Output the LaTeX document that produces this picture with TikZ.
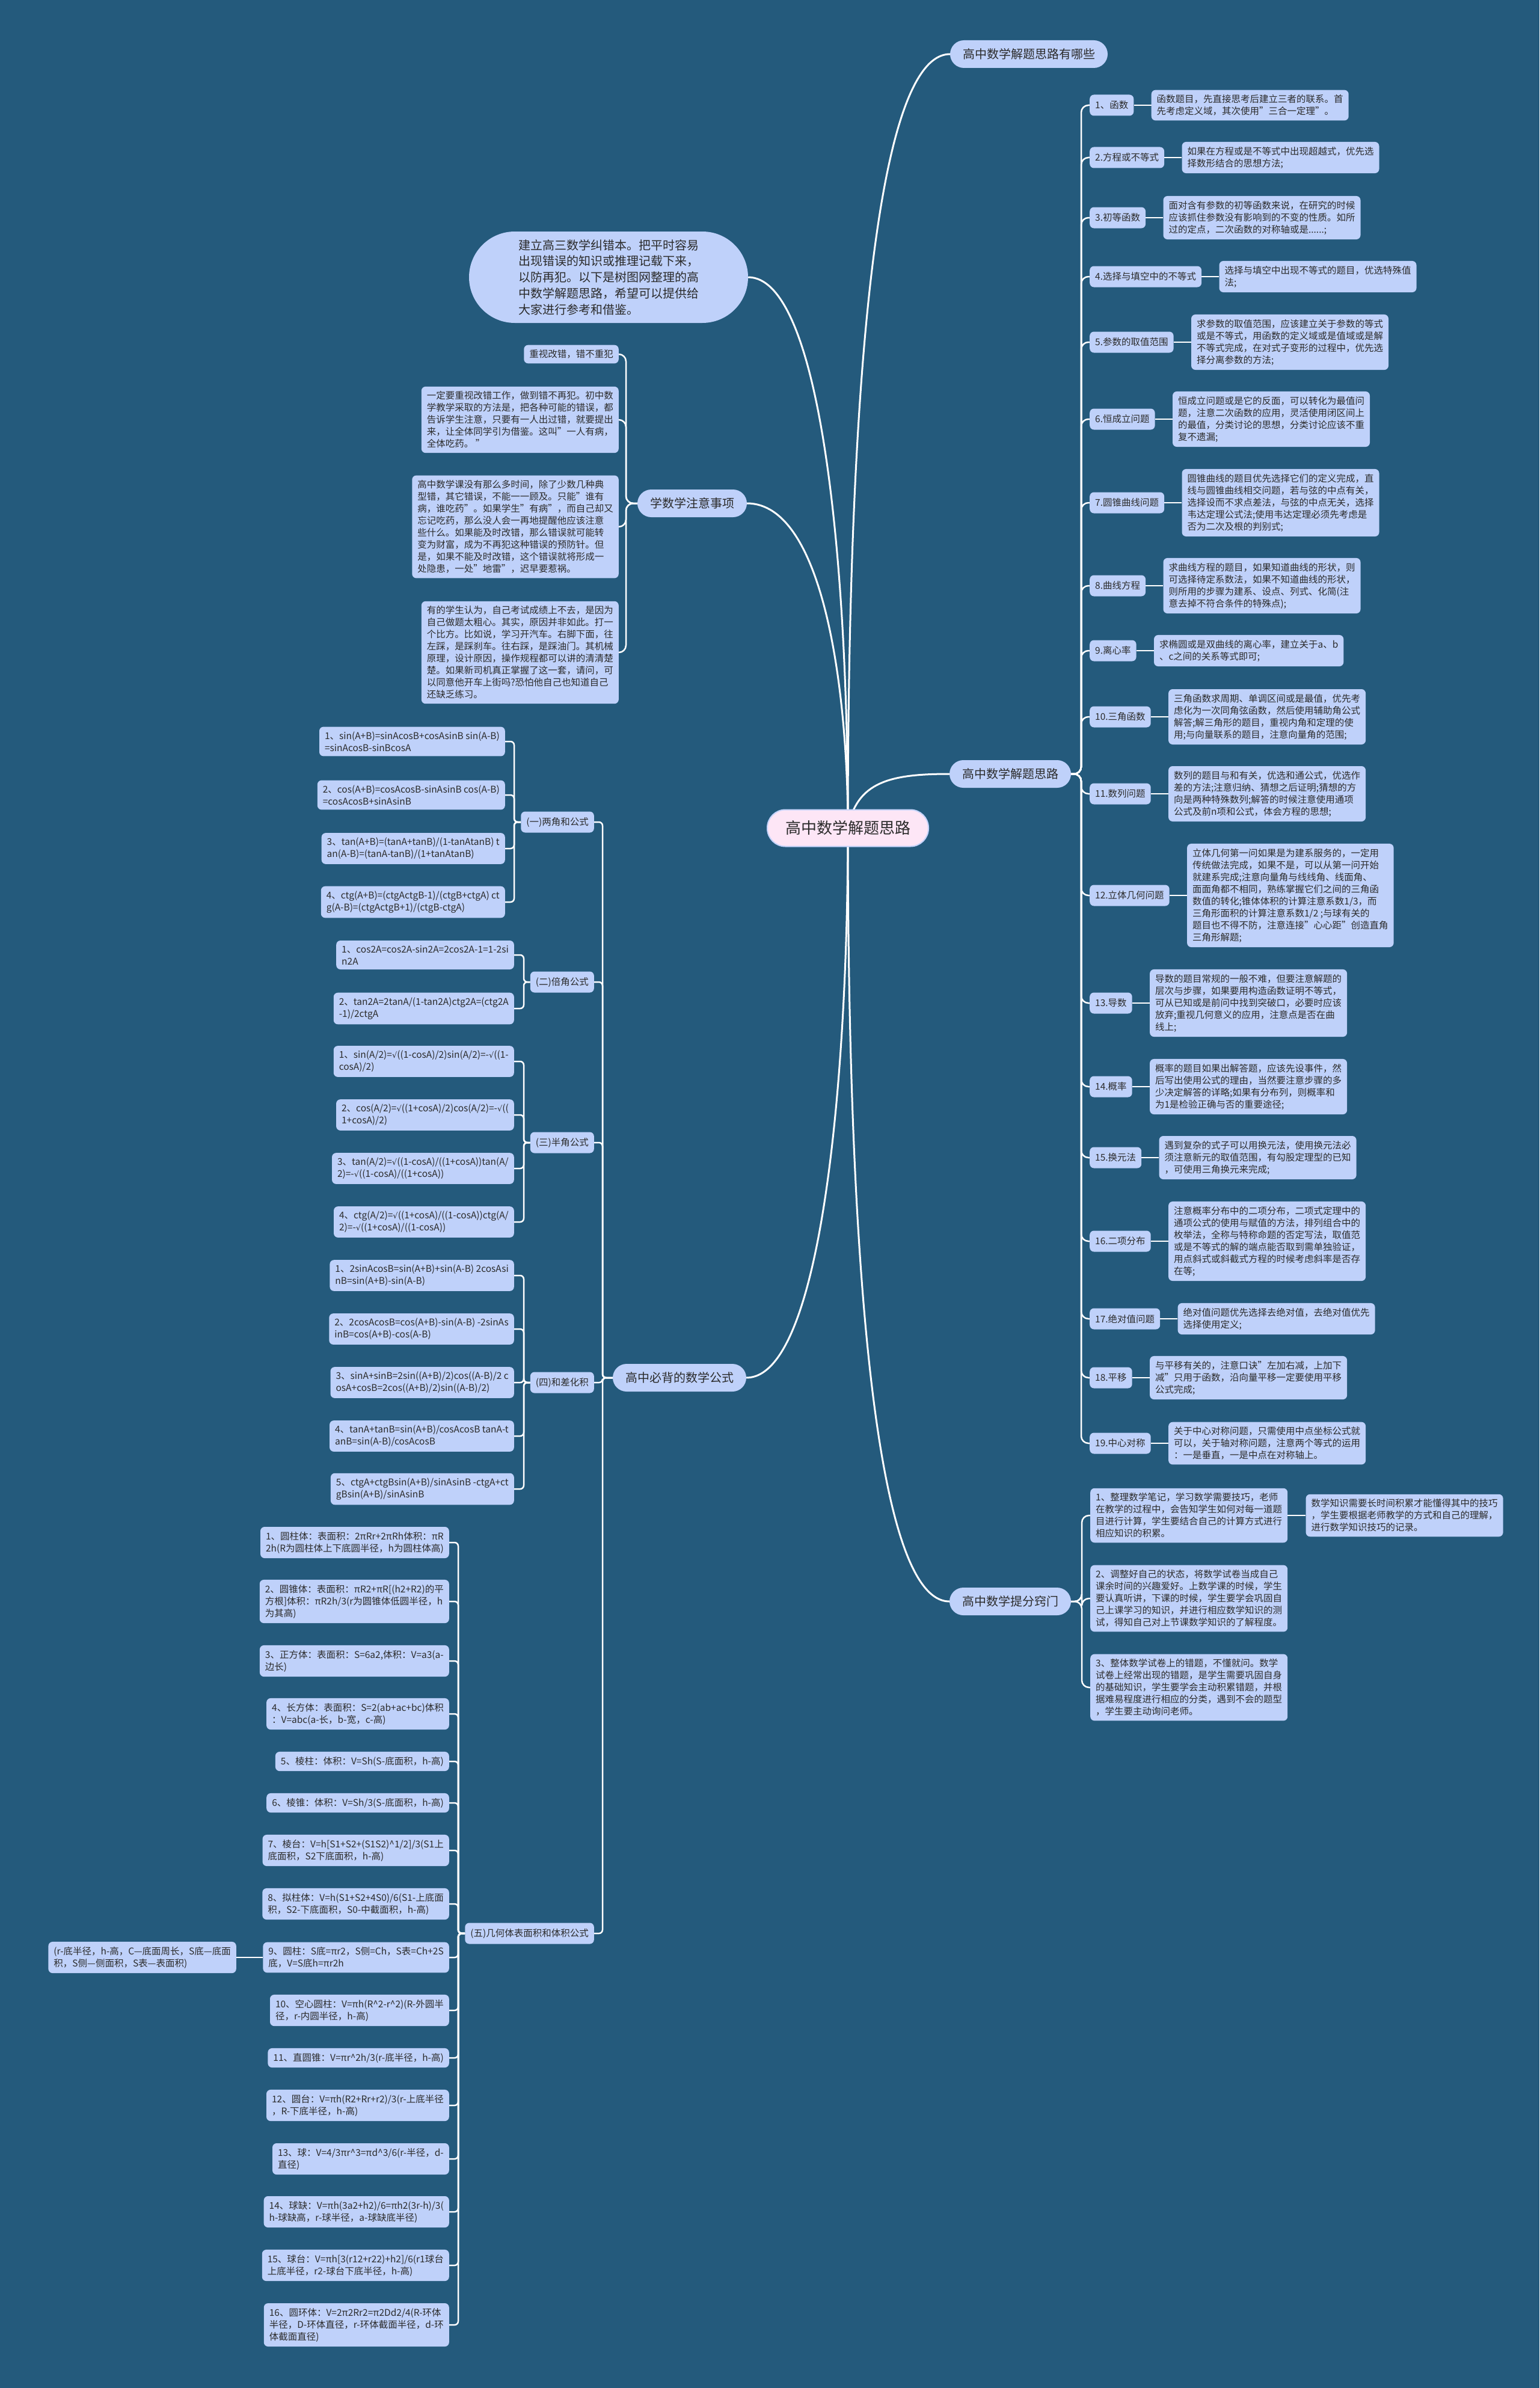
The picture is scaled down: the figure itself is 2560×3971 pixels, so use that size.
\documentclass[tikz,border=0pt]{standalone}
\usepackage{fontspec}
\setmainfont{Noto Sans CJK SC}
\newfontfamily\symfont{DejaVu Sans}
\newcommand{\sqr}{{\symfont\fontsize{13}{20}\selectfont √}}
\definecolor{bg}{HTML}{245A7C}
\definecolor{boxc}{HTML}{BFD1FA}
\definecolor{txt}{HTML}{2B2B2B}
\definecolor{pinkc}{HTML}{FDE6F6}
\definecolor{pinkb}{HTML}{C4D3FA}
\pgfdeclarelayer{backl}
\pgfdeclarelayer{linel}
\pgfsetlayers{backl,linel,main}
\begin{document}
\begin{tikzpicture}[x=1pt,y=-1pt,
  leaf/.style={rectangle, rounded corners=7pt, fill=boxc, text=txt, font=\fontsize{15.5}{20}\selectfont, align=left, inner xsep=9pt, inner ysep=8pt},
  lbl/.style={leaf, minimum height=35pt},
  br/.style={rectangle, rounded corners=23pt, fill=boxc, text=txt, font=\fontsize{20}{26}\selectfont, inner xsep=21pt, minimum height=46pt},
  ln/.style={draw=white, line width=2.5pt, rounded corners=12pt},
  lns/.style={draw=white, line width=2.5pt, rounded corners=6pt},
  mainln/.style={draw=white, line width=3pt}]
\begin{pgfonlayer}{backl}
\fill[bg] (0,0) rectangle (2560,3971);
\end{pgfonlayer}
\useasboundingbox (0,0) rectangle (2560,3971);

% ---------- central & branch nodes ----------
\node[rectangle, rounded corners=30pt, fill=pinkc, draw=pinkb, line width=2pt, text=txt, font=\fontsize{26}{32}\selectfont, inner xsep=30pt, minimum height=61pt] (C) at (1410,1377) {高中数学解题思路};
\node[br] (B1) at (1711,90) {高中数学解题思路有哪些};
\node[br] (B2) at (1680,1287) {高中数学解题思路};
\node[br] (B3) at (1680,2663) {高中数学提分窍门};
\node[rectangle, rounded corners=76pt, fill=boxc, text=txt, font=\fontsize{20}{26.7}\selectfont, align=left, inner xsep=78pt, minimum height=152pt, minimum width=464pt] (L1) at (1012,461) {建立高三数学纠错本。把平时容易\\出现错误的知识或推理记载下来，\\以防再犯。以下是树图网整理的高\\中数学解题思路，希望可以提供给\\大家进行参考和借鉴。};
\node[br] (L2) at (1151,837) {学数学注意事项};
\node[br] (L3) at (1130,2291) {高中必背的数学公式};

\begin{pgfonlayer}{linel}
\draw[mainln] (C.center) .. controls (1410,800) and (1440,90) .. (B1.west);
\draw[mainln] (C.center) .. controls (1425,1300) and (1480,1287) .. (B2.west);
\draw[mainln] (C.center) .. controls (1410,1954) and (1440,2663) .. (B3.west);
\draw[mainln] (C.center) .. controls (1410,900) and (1360,461) .. (L1.east);
\draw[mainln] (C.center) .. controls (1410,1150) and (1370,837) .. (L2.east);
\draw[mainln] (C.center) .. controls (1410,1800) and (1365,2291) .. (L3.east);
\end{pgfonlayer}

% ---------- right: 19 items ----------
\node[lbl, anchor=west] (r1) at (1812,175) {1、函数};
\node[leaf, anchor=west] (d1) at ([xshift=29pt]r1.east) {函数题目，先直接思考后建立三者的联系。首\\先考虑定义域，其次使用"三合一定理"。};
\node[lbl, anchor=west] (r2) at (1812,262) {2.方程或不等式};
\node[leaf, anchor=west] (d2) at ([xshift=29pt]r2.east) {如果在方程或是不等式中出现超越式，优先选\\择数形结合的思想方法;};
\node[lbl, anchor=west] (r3) at (1812,362) {3.初等函数};
\node[leaf, anchor=west] (d3) at ([xshift=29pt]r3.east) {面对含有参数的初等函数来说，在研究的时候\\应该抓住参数没有影响到的不变的性质。如所\\过的定点，二次函数的对称轴或是......;};
\node[lbl, anchor=west] (r4) at (1812,460) {4.选择与填空中的不等式};
\node[leaf, anchor=west] (d4) at ([xshift=29pt]r4.east) {选择与填空中出现不等式的题目，优选特殊值\\法;};
\node[lbl, anchor=west] (r5) at (1812,569) {5.参数的取值范围};
\node[leaf, anchor=west] (d5) at ([xshift=29pt]r5.east) {求参数的取值范围，应该建立关于参数的等式\\或是不等式，用函数的定义域或是值域或是解\\不等式完成，在对式子变形的过程中，优先选\\择分离参数的方法;};
\node[lbl, anchor=west] (r6) at (1812,697) {6.恒成立问题};
\node[leaf, anchor=west] (d6) at ([xshift=29pt]r6.east) {恒成立问题或是它的反面，可以转化为最值问\\题，注意二次函数的应用，灵活使用闭区间上\\的最值，分类讨论的思想，分类讨论应该不重\\复不遗漏;};
\node[lbl, anchor=west] (r7) at (1812,836) {7.圆锥曲线问题};
\node[leaf, anchor=west] (d7) at ([xshift=29pt]r7.east) {圆锥曲线的题目优先选择它们的定义完成，直\\线与圆锥曲线相交问题，若与弦的中点有关，\\选择设而不求点差法，与弦的中点无关，选择\\韦达定理公式法;使用韦达定理必须先考虑是\\否为二次及根的判别式;};
\node[lbl, anchor=west] (r8) at (1812,974) {8.曲线方程};
\node[leaf, anchor=west] (d8) at ([xshift=29pt]r8.east) {求曲线方程的题目，如果知道曲线的形状，则\\可选择待定系数法，如果不知道曲线的形状，\\则所用的步骤为建系、设点、列式、化简(注\\意去掉不符合条件的特殊点);};
\node[lbl, anchor=west] (r9) at (1812,1082) {9.离心率};
\node[leaf, anchor=west] (d9) at ([xshift=29pt]r9.east) {求椭圆或是双曲线的离心率，建立关于a、b\\、c之间的关系等式即可;};
\node[lbl, anchor=west] (r10) at (1812,1192) {10.三角函数};
\node[leaf, anchor=west] (d10) at ([xshift=29pt]r10.east) {三角函数求周期、单调区间或是最值，优先考\\虑化为一次同角弦函数，然后使用辅助角公式\\解答;解三角形的题目，重视内角和定理的使\\用;与向量联系的题目，注意向量角的范围;};
\node[lbl, anchor=west] (r11) at (1812,1320) {11.数列问题};
\node[leaf, anchor=west] (d11) at ([xshift=29pt]r11.east) {数列的题目与和有关，优选和通公式，优选作\\差的方法;注意归纳、猜想之后证明;猜想的方\\向是两种特殊数列;解答的时候注意使用通项\\公式及前n项和公式，体会方程的思想;};
\node[lbl, anchor=west] (r12) at (1812,1489) {12.立体几何问题};
\node[leaf, anchor=west] (d12) at ([xshift=29pt]r12.east) {立体几何第一问如果是为建系服务的，一定用\\传统做法完成，如果不是，可以从第一问开始\\就建系完成;注意向量角与线线角、线面角、\\面面角都不相同，熟练掌握它们之间的三角函\\数值的转化;锥体体积的计算注意系数1/3，而\\三角形面积的计算注意系数1/2 ;与球有关的\\题目也不得不防，注意连接"心心距"创造直角\\三角形解题;};
\node[lbl, anchor=west] (r13) at (1812,1668) {13.导数};
\node[leaf, anchor=west] (d13) at ([xshift=29pt]r13.east) {导数的题目常规的一般不难，但要注意解题的\\层次与步骤，如果要用构造函数证明不等式，\\可从已知或是前问中找到突破口，必要时应该\\放弃;重视几何意义的应用，注意点是否在曲\\线上;};
\node[lbl, anchor=west] (r14) at (1812,1807) {14.概率};
\node[leaf, anchor=west] (d14) at ([xshift=29pt]r14.east) {概率的题目如果出解答题，应该先设事件，然\\后写出使用公式的理由，当然要注意步骤的多\\少决定解答的详略;如果有分布列，则概率和\\为1是检验正确与否的重要途径;};
\node[lbl, anchor=west] (r15) at (1812,1925) {15.换元法};
\node[leaf, anchor=west] (d15) at ([xshift=29pt]r15.east) {遇到复杂的式子可以用换元法，使用换元法必\\须注意新元的取值范围，有勾股定理型的已知\\，可使用三角换元来完成;};
\node[lbl, anchor=west] (r16) at (1812,2064) {16.二项分布};
\node[leaf, anchor=west] (d16) at ([xshift=29pt]r16.east) {注意概率分布中的二项分布，二项式定理中的\\通项公式的使用与赋值的方法，排列组合中的\\枚举法，全称与特称命题的否定写法，取值范\\或是不等式的解的端点能否取到需单独验证，\\用点斜式或斜截式方程的时候考虑斜率是否存\\在等;};
\node[lbl, anchor=west] (r17) at (1812,2193) {17.绝对值问题};
\node[leaf, anchor=west] (d17) at ([xshift=29pt]r17.east) {绝对值问题优先选择去绝对值，去绝对值优先\\选择使用定义;};
\node[lbl, anchor=west] (r18) at (1812,2291) {18.平移};
\node[leaf, anchor=west] (d18) at ([xshift=29pt]r18.east) {与平移有关的，注意口诀"左加右减，上加下\\减"只用于函数，沿向量平移一定要使用平移\\公式完成;};
\node[lbl, anchor=west] (r19) at (1812,2400) {19.中心对称};
\node[leaf, anchor=west] (d19) at ([xshift=29pt]r19.east) {关于中心对称问题，只需使用中点坐标公式就\\可以，关于轴对称问题，注意两个等式的运用\\：一是垂直，一是中点在对称轴上。};

\begin{pgfonlayer}{linel}
\foreach \i/\y in {1/175,2/262,3/362,4/460,5/569,6/697,7/836,8/974,9/1082,10/1192,11/1320,12/1489,13/1668,14/1807,15/1925,16/2064,17/2193,18/2291,19/2400}{
  \draw[ln] (B2.east) -- (1798,1287) -- (1798,\y) -- (r\i.west);
  \draw[ln] (r\i.east) -- (d\i.west);
}
\end{pgfonlayer}

% ---------- right: 提分窍门 ----------
\node[leaf, anchor=west] (t1) at (1813,2520) {1、整理数学笔记，学习数学需要技巧，老师\\在教学的过程中，会告知学生如何对每一道题\\目进行计算，学生要结合自己的计算方式进行\\相应知识的积累。};
\node[leaf, anchor=west] (t1a) at ([xshift=30pt]t1.east) {数学知识需要长时间积累才能懂得其中的技巧\\，学生要根据老师教学的方式和自己的理解，\\进行数学知识技巧的记录。};
\node[leaf, anchor=west] (t2) at (1813,2658) {2、调整好自己的状态，将数学试卷当成自己\\课余时间的兴趣爱好。上数学课的时候，学生\\要认真听讲，下课的时候，学生要学会巩固自\\己上课学习的知识，并进行相应数学知识的测\\试，得知自己对上节课数学知识的了解程度。};
\node[leaf, anchor=west] (t3) at (1813,2806) {3、整体数学试卷上的错题，不懂就问。数学\\试卷上经常出现的错题，是学生需要巩固自身\\的基础知识，学生要学会主动积累错题，并根\\据难易程度进行相应的分类，遇到不会的题型\\，学生要主动询问老师。};
\begin{pgfonlayer}{linel}
\foreach \i/\y in {1/2520,2/2658,3/2806}{
  \draw[ln] (B3.east) -- (1799,2663) -- (1799,\y) -- (t\i.west);
}
\draw[ln] (t1.east) -- (t1a.west);
\end{pgfonlayer}

% ---------- left: 学数学注意事项 ----------
\node[leaf, anchor=east] (n1) at (1029,589) {重视改错，错不重犯};
\node[leaf, anchor=east] (n2) at (1029,698) {一定要重视改错工作，做到错不再犯。初中数\\学教学采取的方法是，把各种可能的错误，都\\告诉学生注意，只要有一人出过错，就要提出\\来，让全体同学引为借鉴。这叫"一人有病，\\全体吃药。 "};
\node[leaf, anchor=east] (n3) at (1029,876) {高中数学课没有那么多时间，除了少数几种典\\型错，其它错误，不能一一顾及。只能"谁有\\病，谁吃药"。如果学生"有病"，而自己却又\\忘记吃药，那么没人会一再地提醒他应该注意\\些什么。如果能及时改错，那么错误就可能转\\变为财富，成为不再犯这种错误的预防针。但\\是，如果不能及时改错，这个错误就将形成一\\处隐患，一处"地雷"，迟早要惹祸。};
\node[leaf, anchor=east] (n4) at (1029,1085) {有的学生认为，自己考试成绩上不去，是因为\\自己做题太粗心。其实，原因并非如此。打一\\个比方。比如说，学习开汽车。右脚下面，往\\左踩，是踩刹车。往右踩，是踩油门。其机械\\原理，设计原因，操作规程都可以讲的清清楚\\楚。如果新司机真正掌握了这一套，请问，可\\以同意他开车上街吗?恐怕他自己也知道自己\\还缺乏练习。};
\begin{pgfonlayer}{linel}
\foreach \i/\y in {1/589,2/698,3/876,4/1085}{
  \draw[ln] (L2.west) -- (1041,837) -- (1041,\y) -- (n\i.east);
}
\end{pgfonlayer}

% ---------- left: 高中必背的数学公式 ----------
\node[lbl, anchor=east] (s1) at (988,1367) {(一)两角和公式};
\node[lbl, anchor=east] (s2) at (988,1633) {(二)倍角公式};
\node[lbl, anchor=east] (s3) at (988,1900) {(三)半角公式};
\node[lbl, anchor=east] (s4) at (988,2299) {(四)和差化积};
\node[lbl, anchor=east] (s5) at (988,3215) {(五)几何体表面积和体积公式};
\begin{pgfonlayer}{linel}
\foreach \i/\y in {1/1367,2/1633,3/1900,4/2299,5/3215}{
  \draw[lns] (L3.west) -- (1002,2291) -- (1002,\y) -- (s\i.east);
}
\end{pgfonlayer}

% (一)
\node[leaf, anchor=east] (a1) at (840,1233) {1、sin(A+B)=sinAcosB+cosAsinB sin(A-B)\\=sinAcosB-sinBcosA};
\node[leaf, anchor=east] (a2) at (840,1322) {2、cos(A+B)=cosAcosB-sinAsinB cos(A-B)\\=cosAcosB+sinAsinB};
\node[leaf, anchor=east] (a3) at (840,1411) {3、tan(A+B)=(tanA+tanB)/(1-tanAtanB) t\\an(A-B)=(tanA-tanB)/(1+tanAtanB)};
\node[leaf, anchor=east] (a4) at (840,1500) {4、ctg(A+B)=(ctgActgB-1)/(ctgB+ctgA) ct\\g(A-B)=(ctgActgB+1)/(ctgB-ctgA)};
% (二)
\node[leaf, anchor=east] (b1) at (855,1588) {1、cos2A=cos2A-sin2A=2cos2A-1=1-2si\\n2A};
\node[leaf, anchor=east] (b2) at (855,1677) {2、tan2A=2tanA/(1-tan2A)ctg2A=(ctg2A\\-1)/2ctgA};
% (三)
\node[leaf, anchor=east] (c1) at (855,1765) {1、sin(A/2)=\sqr((1-cosA)/2)sin(A/2)=-\sqr((1-\\cosA)/2)};
\node[leaf, anchor=east] (c2) at (855,1854) {2、cos(A/2)=\sqr((1+cosA)/2)cos(A/2)=-\sqr((\\1+cosA)/2)};
\node[leaf, anchor=east] (c3) at (855,1943) {3、tan(A/2)=\sqr((1-cosA)/((1+cosA))tan(A/\\2)=-\sqr((1-cosA)/((1+cosA))};
\node[leaf, anchor=east] (c4) at (855,2032) {4、ctg(A/2)=\sqr((1+cosA)/((1-cosA))ctg(A/\\2)=-\sqr((1+cosA)/((1-cosA))};
% (四)
\node[leaf, anchor=east] (e1) at (855,2121) {1、2sinAcosB=sin(A+B)+sin(A-B) 2cosAsi\\nB=sin(A+B)-sin(A-B)};
\node[leaf, anchor=east] (e2) at (855,2210) {2、2cosAcosB=cos(A+B)-sin(A-B) -2sinAs\\inB=cos(A+B)-cos(A-B)};
\node[leaf, anchor=east] (e3) at (855,2299) {3、sinA+sinB=2sin((A+B)/2)cos((A-B)/2 c\\osA+cosB=2cos((A+B)/2)sin((A-B)/2)};
\node[leaf, anchor=east] (e4) at (855,2388) {4、tanA+tanB=sin(A+B)/cosAcosB tanA-t\\anB=sin(A-B)/cosAcosB};
\node[leaf, anchor=east] (e5) at (855,2476) {5、ctgA+ctgBsin(A+B)/sinAsinB -ctgA+ct\\gBsin(A+B)/sinAsinB};
% (五)
\node[leaf, anchor=east] (f1) at (747,2565) {1、圆柱体：表面积：2πRr+2πRh体积：πR\\2h(R为圆柱体上下底圆半径，h为圆柱体高)};
\node[leaf, anchor=east] (f2) at (747,2663) {2、圆锥体：表面积：πR2+πR[(h2+R2)的平\\方根]体积：πR2h/3(r为圆锥体低圆半径，h\\为其高)};
\node[leaf, anchor=east] (f3) at (747,2762) {3、正方体：表面积：S=6a2,体积：V=a3(a-\\边长)};
\node[leaf, anchor=east] (f4) at (747,2850) {4、长方体：表面积：S=2(ab+ac+bc)体积\\：V=abc(a-长，b-宽，c-高)};
\node[leaf, anchor=east] (f5) at (747,2929) {5、棱柱：体积：V=Sh(S-底面积，h-高)};
\node[leaf, anchor=east] (f6) at (747,2998) {6、棱锥：体积：V=Sh/3(S-底面积，h-高)};
\node[leaf, anchor=east] (f7) at (747,3077) {7、棱台：V=h[S1+S2+(S1S2)\textasciicircum 1/2]/3(S1上\\底面积，S2下底面积，h-高)};
\node[leaf, anchor=east] (f8) at (747,3166) {8、拟柱体：V=h(S1+S2+4S0)/6(S1-上底面\\积，S2-下底面积，S0-中截面积，h-高)};
\node[leaf, anchor=east] (f9) at (747,3255) {9、圆柱：S底=πr2，S侧=Ch，S表=Ch+2S\\底，V=S底h=πr2h};
\node[leaf, anchor=east] (f9a) at (393,3255) {(r-底半径，h-高，C—底面周长，S底—底面\\积，S侧—侧面积，S表—表面积)};
\node[leaf, anchor=east] (f10) at (747,3343) {10、空心圆柱：V=πh(R\textasciicircum 2-r\textasciicircum 2)(R-外圆半\\径，r-内圆半径，h-高)};
\node[leaf, anchor=east] (f11) at (747,3422) {11、直圆锥：V=πr\textasciicircum 2h/3(r-底半径，h-高)};
\node[leaf, anchor=east] (f12) at (747,3501) {12、圆台：V=πh(R2+Rr+r2)/3(r-上底半径\\，R-下底半径，h-高)};
\node[leaf, anchor=east] (f13) at (747,3590) {13、球：V=4/3πr\textasciicircum 3=πd\textasciicircum 3/6(r-半径，d-\\直径)};
\node[leaf, anchor=east] (f14) at (747,3678) {14、球缺：V=πh(3a2+h2)/6=πh2(3r-h)/3(\\h-球缺高，r-球半径，a-球缺底半径)};
\node[leaf, anchor=east] (f15) at (747,3767) {15、球台：V=πh[3(r12+r22)+h2]/6(r1球台\\上底半径，r2-球台下底半径，h-高)};
\node[leaf, anchor=east] (f16) at (747,3866) {16、圆环体：V=2π2Rr2=π2Dd2/4(R-环体\\半径，D-环体直径，r-环体截面半径，d-环\\体截面直径)};

\begin{pgfonlayer}{linel}
\foreach \i/\y in {1/1233,2/1322,3/1411,4/1500}{
  \draw[lns] (s1.west) -- (855,1367) -- (855,\y) -- (a\i.east);
}
\foreach \i/\y in {1/1588,2/1677}{
  \draw[lns] (s2.west) -- (871,1633) -- (871,\y) -- (b\i.east);
}
\foreach \i/\y in {1/1765,2/1854,3/1943,4/2032}{
  \draw[lns] (s3.west) -- (871,1900) -- (871,\y) -- (c\i.east);
}
\foreach \i/\y in {1/2121,2/2210,3/2299,4/2388,5/2476}{
  \draw[lns] (s4.west) -- (871,2299) -- (871,\y) -- (e\i.east);
}
\foreach \i/\y in {1/2565,2/2663,3/2762,4/2850,5/2929,6/2998,7/3077,8/3166,9/3255,10/3343,11/3422,12/3501,13/3590,14/3678,15/3767,16/3866}{
  \draw[lns] (s5.west) -- (762,3215) -- (762,\y) -- (f\i.east);
}
\draw[ln] (f9.west) -- (f9a.east);
\end{pgfonlayer}
\end{tikzpicture}
\end{document}
